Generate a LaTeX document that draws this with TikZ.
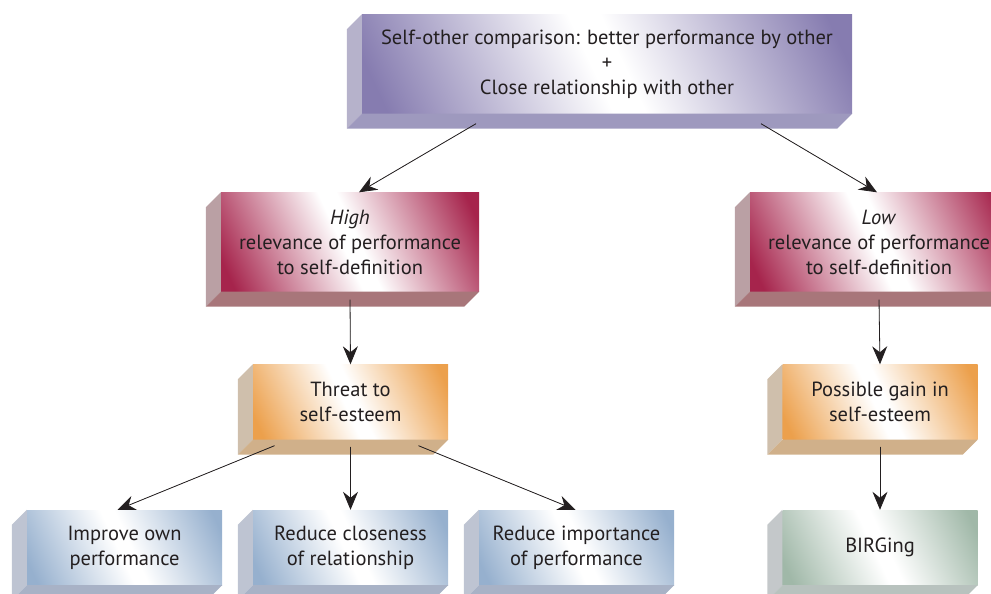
\documentclass[tikz,border=0pt]{standalone}
\usepackage{fontspec}
\setmainfont{PT Sans}
\usetikzlibrary{arrows.meta,calc}
\definecolor{ink}{RGB}{35,31,32}
\definecolor{purpfront}{RGB}{134,124,176}
\definecolor{purpside}{RGB}{182,178,203}
\definecolor{purpbot}{RGB}{158,153,190}
\definecolor{crimfront}{RGB}{166,36,76}
\definecolor{crimside}{RGB}{186,160,164}
\definecolor{crimbot}{RGB}{168,118,122}
\definecolor{orngfront}{RGB}{236,160,76}
\definecolor{orngside}{RGB}{207,191,172}
\definecolor{orngbot}{RGB}{208,176,138}
\definecolor{bluefront}{RGB}{150,176,206}
\definecolor{blueside}{RGB}{190,196,210}
\definecolor{bluebot}{RGB}{168,178,198}
\definecolor{grnfront}{RGB}{160,184,168}
\definecolor{grnside}{RGB}{196,200,202}
\definecolor{grnbot}{RGB}{184,194,190}
\foreach \c in {purp,crim,orng,blue,grn} {
  \pgfdeclarehorizontalshading{\c shade}{100bp}{color(0bp)=(\c front); color(20bp)=(\c front);
    color(48bp)=(white); color(52bp)=(white); color(80bp)=(\c front); color(100bp)=(\c front)}
}
\tikzset{
  slab/.style={inner sep=0pt, align=center, text=ink, font=\fontsize{20.5}{25}\selectfont,
    shading=#1shade, shading angle=25},
  bigslab/.style={slab=#1, minimum width=490pt, minimum height=99pt},
  midslab/.style={slab=#1, minimum width=258pt, minimum height=99pt},
  smallslab/.style={slab=#1, minimum width=195pt, minimum height=75pt},
  arr/.style={-{Stealth[length=18pt,width=15pt,inset=6pt]}, line width=0.8pt, draw=ink, fill=ink}}

\begin{document}
\begin{tikzpicture}[x=1pt, y=1pt]
  \clip (0,0) rectangle (991,-594);
  \node[bigslab=purp] (cmp) at (607,-64) {Self-other comparison: better performance by other\\+\\Close relationship with other};
  \node[midslab=crim] (high) at (350,-242) {\textit{High}\\relevance of performance\\to self-definition};
  \node[midslab=crim] (low) at (879,-242) {\textit{Low}\\relevance of performance\\to self-definition};
  \node[smallslab=orng] (threat) at (350.5,-402) {Threat to\\self-esteem};
  \node[smallslab=orng] (gain) at (880,-402) {Possible gain in\\self-esteem};
  \node[smallslab=blue] (improve) at (124.5,-547.5) {Improve own\\performance};
  \node[smallslab=blue] (closeness) at (350.5,-547.5) {Reduce closeness\\of relationship};
  \node[smallslab=blue] (importance) at (576.5,-547.5) {Reduce importance\\of performance};
  \node[smallslab=grn] (birg) at (880,-547.5) {BIRGing};
  % side and bottom faces of the slabs
  \foreach \n/\sc/\bc in {cmp/purpside/purpbot, high/crimside/crimbot, low/crimside/crimbot,
      threat/orngside/orngbot, gain/orngside/orngbot, improve/blueside/bluebot,
      closeness/blueside/bluebot, importance/blueside/bluebot, birg/grnside/grnbot} {
    \fill[\sc] (\n.north west) -- ++(-15,-15) -- ($(\n.south west)+(-15,-15)$) -- (\n.south west) -- cycle;
    \fill[\bc] (\n.south west) -- (\n.south east) -- ++(-15,-15) -- ($(\n.south west)+(-15,-15)$) -- cycle;
  }
  \draw[arr] ([xshift=-131pt,yshift=-10pt]cmp.south) -- ([xshift=9pt]high.north);
  \draw[arr] ([xshift=154pt,yshift=-10pt]cmp.south) -- ([xshift=-2pt]low.north);
  \draw[arr] ([yshift=-8pt]high.south) -- (threat.north);
  \draw[arr] ([yshift=-8pt]low.south) -- (gain.north);
  \draw[arr] ([xshift=-76pt,yshift=-6pt]threat.south) -- ([xshift=-7pt]improve.north);
  \draw[arr] ([yshift=-7pt]threat.south) -- (closeness.north);
  \draw[arr] ([xshift=68pt,yshift=-6pt]threat.south) -- ([xshift=-1pt]importance.north);
  \draw[arr] ([yshift=-7pt]gain.south) -- (birg.north);
\end{tikzpicture}
\end{document}
